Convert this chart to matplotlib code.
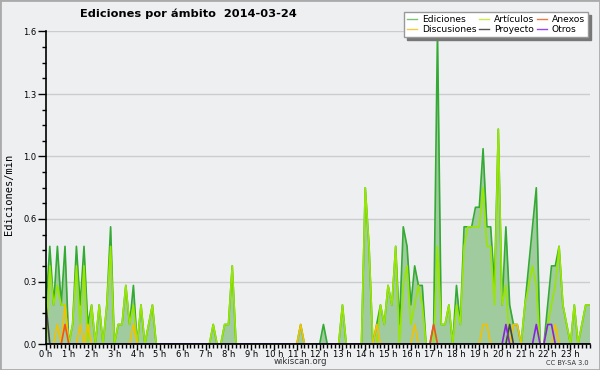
import numpy as np
import matplotlib

matplotlib.use("Agg")

import matplotlib.pyplot as plt
from matplotlib.lines import Line2D
from matplotlib.patches import Rectangle
from matplotlib.ticker import FixedLocator, MultipleLocator, FuncFormatter

# edits per 10-minute slot on 2014-03-24, slots 00:00 .. 23:50
total = [
    2, 5, 2, 5, 2, 5, 0, 1, 5, 2,
    5, 1, 2, 0, 2, 0, 2, 6, 0, 1,
    1, 3, 1, 3, 0, 2, 0, 1, 2, 0,
    0, 0, 0, 0, 0, 0, 0, 0, 0, 0,
    0, 0, 0, 0, 1, 0, 0, 1, 1, 4,
    0, 0, 0, 0, 0, 0, 0, 0, 0, 0,
    0, 0, 0, 0, 0, 0, 0, 1, 0, 0,
    0, 0, 0, 1, 0, 0, 0, 0, 2, 0,
    0, 0, 0, 0, 8, 5, 0, 1, 2, 1,
    3, 2, 5, 1, 6, 5, 2, 4, 3, 3,
    0, 0, 1, 16, 1, 1, 2, 0, 3, 1,
    6, 6, 6, 7, 7, 10, 6, 6, 3, 11,
    2, 6, 2, 1, 1, 0, 2, 4, 6, 8,
    0, 0, 2, 4, 4, 5, 2, 1, 0, 2,
    0, 1, 2, 2,
]
articles = [
    0, 4, 2, 3, 2, 2, 0, 1, 4, 1,
    4, 0, 2, 0, 2, 0, 2, 5, 0, 1,
    1, 3, 1, 2, 0, 2, 0, 1, 2, 0,
    0, 0, 0, 0, 0, 0, 0, 0, 0, 0,
    0, 0, 0, 0, 1, 0, 0, 1, 1, 4,
    0, 0, 0, 0, 0, 0, 0, 0, 0, 0,
    0, 0, 0, 0, 0, 0, 0, 0, 0, 0,
    0, 0, 0, 0, 0, 0, 0, 0, 2, 0,
    0, 0, 0, 0, 8, 5, 0, 0, 2, 1,
    3, 2, 5, 0, 3, 4, 1, 2, 3, 2,
    0, 0, 0, 5, 1, 1, 2, 0, 2, 1,
    5, 6, 6, 6, 6, 8, 5, 5, 2, 11,
    2, 3, 0, 0, 0, 0, 2, 3, 4, 3,
    0, 0, 1, 2, 3, 5, 2, 1, 0, 2,
    0, 1, 2, 2,
]
# sparse namespaces: slot start -> edits
discussions = {"00:30": 1, "00:50": 2, "01:30": 1, "01:50": 1, "03:50": 1,
               "11:10": 1, "14:30": 1, "16:10": 1, "19:10": 1, "19:20": 1,
               "20:30": 1, "20:40": 1, "22:20": 1}
annexes = {"00:50": 1, "17:00": 1}
project = {"00:00": 2, "20:20": 1}
others = {"20:10": 1, "21:30": 1, "22:00": 1, "22:10": 1}

hour_labels = [f"{h} h" for h in range(24)]

n = len(total)
hours = np.arange(n) / 6.0


def expand(slots):
    out = np.zeros(n)
    for hhmm, v in slots.items():
        h, m = map(int, hhmm.split(":"))
        out[h * 6 + m // 10] = v
    return out


def per_min(counts):
    return np.asarray(counts, dtype=float) / 10.0


BG = "#eeeff1"
fig = plt.figure(figsize=(6, 3.7), dpi=100, facecolor=BG)
ax = fig.add_axes([46 / 600, 26 / 370, 543.5 / 600, 312.5 / 370])
ax.set_facecolor(BG)

tot = per_min(total)
ax.fill_between(hours, 0, tot, color="#9fcb9f", lw=0, zorder=1)
series = [
    (tot, "#33aa33"),
    (per_min(articles), "#99e600"),
    (per_min(expand(discussions)), "#f2c200"),
    (per_min(expand(annexes)), "#ee5522"),
    (per_min(expand(project)), "#444444"),
    (per_min(expand(others)), "#8822dd"),
]
for vals, col in series:
    ax.plot(hours, vals, color=col, lw=1.2, zorder=2)

ax.set_xlim(0, hours[-1])
ax.set_ylim(0, 1.6)

ax.xaxis.set_major_locator(FixedLocator(range(24)))
ax.set_xticklabels(hour_labels)
ax.xaxis.set_minor_locator(MultipleLocator(1 / 6))
ax.yaxis.set_major_locator(FixedLocator([0, 0.32, 0.64, 0.96, 1.28, 1.6]))
ax.yaxis.set_major_formatter(FuncFormatter(lambda v, p: f"{v:.1f}"))
ax.yaxis.set_minor_locator(MultipleLocator(0.08))
ax.tick_params(axis="both", which="both", direction="out", labelsize=6,
               colors="black", width=1)
ax.tick_params(axis="x", which="major", length=4, pad=0)
ax.tick_params(axis="x", which="minor", length=3)
ax.tick_params(axis="y", which="major", length=6, pad=1)
ax.tick_params(axis="y", which="minor", length=3)
ax.yaxis.grid(True, color="#cccccc", lw=1)
ax.set_axisbelow(True)
for s in ("top", "right"):
    ax.spines[s].set_visible(False)
for s in ("left", "bottom"):
    ax.spines[s].set_linewidth(1.2)
    ax.spines[s].set_zorder(3)

fig.text(188 / 600, 1 - 14 / 370, "Ediciones por ámbito  2014-03-24",
         ha="center", va="center", fontsize=8.2, fontweight="bold")
fig.text(9 / 600, 1 - 194 / 370, "Ediciones/min", rotation=90,
         ha="center", va="center", fontsize=7.5, family="DejaVu Sans Mono")
fig.text(300 / 600, 1 - 362 / 370, "wikiscan.org", ha="center", va="center",
         fontsize=6.2, color="#333333")
fig.text(589 / 600, 1 - 363 / 370, "CC BY-SA 3.0", ha="right", va="center",
         fontsize=4.8, color="#333333")

labels = ["Ediciones", "Discusiones", "Artículos", "Proyecto", "Anexos", "Otros"]
colors = ["#77c477", "#f2cc44", "#c4ee44", "#555555", "#ee7744", "#9944ee"]
handles = [Line2D([], [], color=c, lw=1) for c in colors]
fig.legend(handles, labels, ncol=3, loc="upper left",
           bbox_to_anchor=(404 / 600, 1 - 12 / 370), fontsize=6.6,
           frameon=True, fancybox=False, edgecolor="#999999", framealpha=1,
           shadow={"ox": 2, "oy": -2, "color": "#777777", "alpha": 1},
           handlelength=1.1, handletextpad=0.5, columnspacing=0.3,
           labelspacing=0.1, borderpad=0.35, borderaxespad=0)

fig.patches.append(Rectangle((0, 0), 1, 1, transform=fig.transFigure,
                             fill=False, edgecolor="#aaaaaa", lw=2))

fig.savefig("out.png", dpi=100, facecolor=BG)
